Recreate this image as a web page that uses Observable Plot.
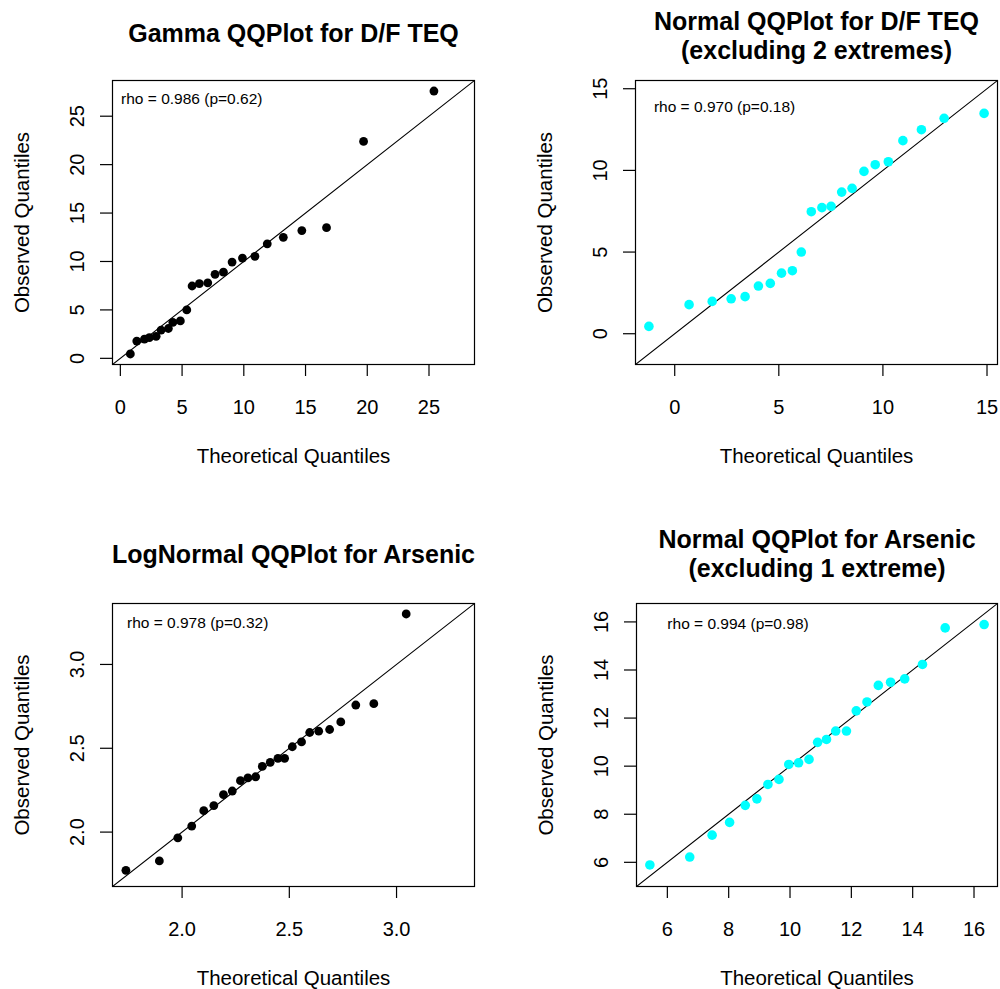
<!DOCTYPE html>
<html><head><meta charset="utf-8">
<script src="https://cdn.jsdelivr.net/npm/d3@7"></script>
<script src="https://cdn.jsdelivr.net/npm/@observablehq/plot@0.6"></script>
<style>
body{margin:0;background:#fff;}
#chart{position:relative;width:1000px;height:989px;background:#fff;overflow:hidden;}
#chart svg{position:absolute;}
</style></head><body><div id="chart"></div>
<script>
// ---- Data ----
// Panel 1: Gamma QQ plot for D/F TEQ (24 observations)
const teqGammaTheoretical = [0.81,1.33,1.95,2.35,2.9,3.3,3.89,4.25,4.86,5.38,5.81,6.4,7.08,7.67,8.35,9.05,9.89,10.9,11.9,13.2,14.7,16.7,19.7,25.4];
const teqObserved = [0.45,1.78,1.98,2.14,2.27,2.92,3.08,3.71,3.86,5.0,7.47,7.72,7.80,8.67,8.90,9.94,10.35,10.53,11.82,12.49,13.19,13.49,22.4,27.6];
// Panel 2: Normal QQ plot for D/F TEQ excluding 2 extremes (22 observations)
const teqNormalTheoretical = [-1.24,0.69,1.80,2.71,3.38,4.02,4.59,5.13,5.65,6.08,6.56,7.07,7.51,8.02,8.52,9.09,9.63,10.26,10.96,11.85,12.94,14.86];
const teqTrimObserved = [0.45,1.78,1.98,2.14,2.27,2.92,3.08,3.71,3.86,5.0,7.47,7.72,7.80,8.67,8.90,9.94,10.35,10.53,11.82,12.49,13.19,13.49];
// Panel 3: LogNormal QQ plot for Arsenic (24 observations, log scale)
const arsenicLogTheoretical = [1.738,1.894,1.980,2.045,2.101,2.148,2.193,2.234,2.272,2.307,2.343,2.374,2.411,2.447,2.478,2.514,2.557,2.595,2.637,2.688,2.740,2.810,2.894,3.045];
const arsenicLogObserved = [1.772,1.828,1.966,2.036,2.128,2.158,2.223,2.245,2.307,2.323,2.330,2.392,2.416,2.440,2.440,2.509,2.538,2.594,2.602,2.612,2.657,2.758,2.766,3.301];
// Panel 4: Normal QQ plot for Arsenic excluding 1 extreme (23 observations)
const arsenicNormalTheoretical = [5.43,6.73,7.46,8.03,8.54,8.92,9.28,9.64,9.96,10.28,10.62,10.90,11.19,11.49,11.84,12.16,12.51,12.88,13.28,13.74,14.32,15.06,16.33];
const arsenicObserved = [5.89,6.22,7.13,7.66,8.37,8.64,9.24,9.45,10.07,10.14,10.28,10.99,11.11,11.46,11.46,12.30,12.67,13.36,13.49,13.63,14.23,15.75,15.89];

// Tick values
const ticks1 = [0,5,10,15,20,25];
const ticks2 = [0,5,10,15];
const ticks3 = [2.0,2.5,3.0];
const ticks4 = [6,8,10,12,14,16];

// Titles and annotations
const titles = ["Gamma QQPlot for D/F TEQ", "Normal QQPlot for D/F TEQ\n(excluding 2 extremes)", "LogNormal QQPlot for Arsenic", "Normal QQPlot for Arsenic\n(excluding 1 extreme)"];
const rhoLabels = ["rho = 0.986 (p=0.62)", "rho = 0.970 (p=0.18)", "rho = 0.978 (p=0.32)", "rho = 0.994 (p=0.98)"];
const rhoX = [0.06, -1.0, 1.743, 6.0];
const rhoY = [26.8, 13.9, 3.25, 15.93];
const xLabel = "Theoretical Quantiles";
const yLabel = "Observed Quantiles";

// ---- Layout ----
const FONT = "'Liberation Sans', Arial, Helvetica, sans-serif";
const panels = [
  {x: teqGammaTheoretical, y: teqObserved, ticks: ticks1, fmt: d => String(d), color: "black", r: 4.4,
   left: 0, top: 0, width: 500, height: 494, ml: 112, mr: 26, mt: 80, mb: 130, titleDy: -48},
  {x: teqNormalTheoretical, y: teqTrimObserved, ticks: ticks2, fmt: d => String(d), color: "#00FFFF", r: 4.8,
   left: 500, top: 0, width: 500, height: 494, ml: 135, mr: 3, mt: 80, mb: 130, titleDy: -45.5},
  {x: arsenicLogTheoretical, y: arsenicLogObserved, ticks: ticks3, fmt: d => d.toFixed(1), color: "black", r: 4.4,
   left: 0, top: 494, width: 500, height: 495, ml: 112, mr: 26, mt: 109, mb: 103, titleDy: -50},
  {x: arsenicNormalTheoretical, y: arsenicObserved, ticks: ticks4, fmt: d => String(d), color: "#00FFFF", r: 4.8,
   left: 500, top: 494, width: 500, height: 495, ml: 136, mr: 3, mt: 109, mb: 103, titleDy: -50.5}
];

const chart = document.getElementById("chart");
panels.forEach((p, i) => {
  const pts = p.x.map((v, j) => ({x: v, y: p.y[j]}));
  const [lo, hi] = d3.extent([...p.x, ...p.y]);
  const pad = (hi - lo) * 0.04;
  const dom = [lo - pad, hi + pad];
  const center = {textAnchor: "middle", lineAnchor: "middle", fill: "black"};
  const svg = Plot.plot({
    width: p.width, height: p.height,
    marginLeft: p.ml, marginRight: p.mr, marginTop: p.mt, marginBottom: p.mb,
    style: {fontFamily: FONT, fontSize: "20px", background: "white", color: "black", overflow: "visible"},
    x: {domain: dom},
    y: {domain: dom},
    marks: [
      Plot.frame({stroke: "black", strokeWidth: 1.2}),
      Plot.axisX(p.ticks, {tickSize: 12, fill: "none", stroke: "black", strokeWidth: 1.2, label: null}),
      Plot.axisY(p.ticks, {tickSize: 12, fill: "none", stroke: "black", strokeWidth: 1.2, label: null}),
      Plot.text(p.ticks, {x: d => d, text: p.fmt, frameAnchor: "bottom", dy: 42.7, fontSize: 20, ...center}),
      Plot.text(p.ticks, {y: d => d, text: p.fmt, frameAnchor: "left", dx: -34.5, rotate: -90, fontSize: 20, ...center}),
      Plot.line(dom, {x: d => d, y: d => d, stroke: "black", strokeWidth: 1.1, clip: true}),
      Plot.dot(pts, {x: "x", y: "y", r: p.r, fill: p.color, stroke: null}),
      Plot.text([rhoLabels[i]], {x: () => rhoX[i], y: () => rhoY[i], text: d => d, textAnchor: "start", lineAnchor: "middle", fontSize: 15.5, fill: "black"}),
      Plot.text([titles[i]], {text: d => d, frameAnchor: "top", dy: p.titleDy, fontSize: 25, fontWeight: "bold", lineHeight: 1.16, ...center}),
      Plot.text([xLabel], {text: d => d, frameAnchor: "bottom", dy: 92, fontSize: 20.5, ...center}),
      Plot.text([yLabel], {text: d => d, frameAnchor: "left", dx: -90, rotate: -90, fontSize: 20.5, ...center})
    ]
  });
  svg.style.left = p.left + "px";
  svg.style.top = p.top + "px";
  chart.appendChild(svg);
});
</script>
</body></html>
